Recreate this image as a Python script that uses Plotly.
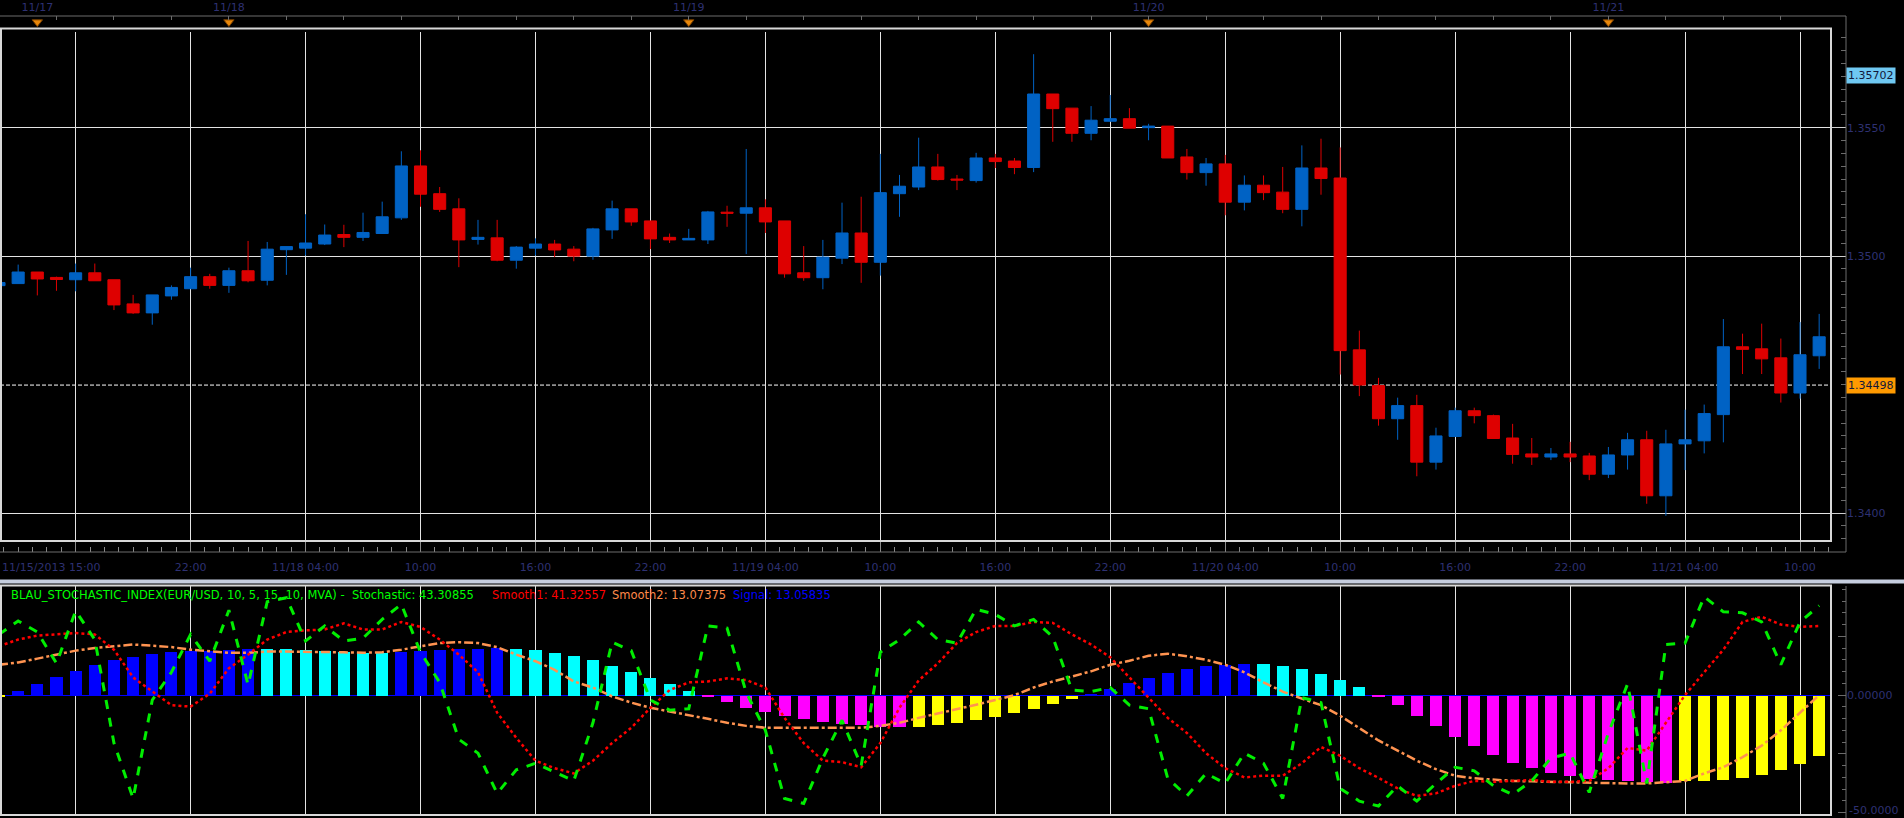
import plotly.graph_objects as go

W, H = 1904, 818

# ---------------- data ----------------
bar_index = list(range(96))

opens = [1.34885, 1.34893, 1.34938, 1.34917, 1.34908, 1.34935, 1.34908, 1.34814, 1.34779, 1.34845,
         1.34873, 1.34920, 1.34886, 1.34943, 1.34906, 1.35025, 1.35031, 1.35047, 1.35084, 1.35073,
         1.35088, 1.35149, 1.35351, 1.35243, 1.35184, 1.35065, 1.35071, 1.34984, 1.35031, 1.35047,
         1.35027, 1.35000, 1.35102, 1.35184, 1.35137, 1.35073, 1.35063, 1.35063, 1.35171, 1.35167,
         1.35188, 1.35137, 1.34935, 1.34916, 1.34992, 1.35090, 1.34976, 1.35243, 1.35269, 1.35347,
         1.35300, 1.35294, 1.35382, 1.35370, 1.35345, 1.35631, 1.35576, 1.35478, 1.35525, 1.35535,
         1.35500, 1.35506, 1.35386, 1.35325, 1.35359, 1.35210, 1.35276, 1.35249, 1.35182, 1.35343,
         1.35304, 1.34635, 1.34496, 1.34367, 1.34418, 1.34198, 1.34298, 1.34398, 1.34379, 1.34292,
         1.34230, 1.34218, 1.34230, 1.34222, 1.34151, 1.34226, 1.34285, 1.34067, 1.34269, 1.34281,
         1.34383, 1.34647, 1.34639, 1.34604, 1.34467, 1.34612]
highs = [1.34944, 1.34967, 1.34938, 1.34920, 1.34971, 1.34971, 1.34908, 1.34849, 1.34849, 1.34886,
         1.34955, 1.34931, 1.34955, 1.35059, 1.35055, 1.35037, 1.35163, 1.35123, 1.35122, 1.35169,
         1.35212, 1.35408, 1.35412, 1.35269, 1.35225, 1.35141, 1.35141, 1.35039, 1.35069, 1.35063,
         1.35039, 1.35110, 1.35216, 1.35184, 1.35137, 1.35088, 1.35106, 1.35176, 1.35196, 1.35417,
         1.35221, 1.35137, 1.35039, 1.35063, 1.35208, 1.35231, 1.35398, 1.35316, 1.35461, 1.35398,
         1.35316, 1.35402, 1.35398, 1.35382, 1.35786, 1.35631, 1.35576, 1.35584, 1.35627, 1.35576,
         1.35515, 1.35506, 1.35417, 1.35382, 1.35394, 1.35314, 1.35314, 1.35347, 1.35431, 1.35457,
         1.35423, 1.34710, 1.34526, 1.34449, 1.34460, 1.34332, 1.34410, 1.34410, 1.34383, 1.34347,
         1.34292, 1.34253, 1.34277, 1.34234, 1.34257, 1.34312, 1.34320, 1.34324, 1.34402, 1.34422,
         1.34755, 1.34698, 1.34737, 1.34679, 1.34743, 1.34775]
lows = [1.34878, 1.34893, 1.34847, 1.34865, 1.34863, 1.34904, 1.34790, 1.34775, 1.34733, 1.34830,
        1.34873, 1.34873, 1.34857, 1.34898, 1.34886, 1.34927, 1.35002, 1.35043, 1.35035, 1.35059,
        1.35088, 1.35141, 1.35192, 1.35172, 1.34957, 1.35045, 1.34980, 1.34951, 1.35002, 1.34996,
        1.34980, 1.34986, 1.35067, 1.35118, 1.35027, 1.35051, 1.35063, 1.35047, 1.35114, 1.35008,
        1.35090, 1.34916, 1.34904, 1.34871, 1.34969, 1.34896, 1.34924, 1.35153, 1.35257, 1.35294,
        1.35257, 1.35286, 1.35343, 1.35319, 1.35327, 1.35445, 1.35445, 1.35451, 1.35525, 1.35498,
        1.35451, 1.35382, 1.35298, 1.35274, 1.35159, 1.35178, 1.35218, 1.35167, 1.35116, 1.35239,
        1.34539, 1.34455, 1.34340, 1.34285, 1.34143, 1.34169, 1.34298, 1.34349, 1.34290, 1.34192,
        1.34187, 1.34206, 1.34198, 1.34128, 1.34136, 1.34169, 1.34036, 1.33989, 1.34167, 1.34232,
        1.34275, 1.34541, 1.34541, 1.34430, 1.34445, 1.34561]
closes = [1.34897, 1.34938, 1.34911, 1.34909, 1.34935, 1.34904, 1.34810, 1.34779, 1.34849, 1.34878,
          1.34920, 1.34886, 1.34943, 1.34904, 1.35027, 1.35037, 1.35051, 1.35082, 1.35073, 1.35092,
          1.35153, 1.35351, 1.35241, 1.35182, 1.35063, 1.35073, 1.34984, 1.35035, 1.35047, 1.35024,
          1.35000, 1.35106, 1.35184, 1.35133, 1.35067, 1.35063, 1.35069, 1.35172, 1.35167, 1.35188,
          1.35133, 1.34931, 1.34916, 1.34996, 1.35090, 1.34976, 1.35247, 1.35272, 1.35347, 1.35298,
          1.35296, 1.35382, 1.35368, 1.35345, 1.35631, 1.35574, 1.35478, 1.35529, 1.35535, 1.35498,
          1.35506, 1.35382, 1.35325, 1.35359, 1.35210, 1.35276, 1.35247, 1.35182, 1.35343, 1.35302,
          1.34632, 1.34498, 1.34367, 1.34418, 1.34198, 1.34300, 1.34398, 1.34379, 1.34290, 1.34228,
          1.34218, 1.34230, 1.34218, 1.34151, 1.34226, 1.34285, 1.34067, 1.34269, 1.34285, 1.34387,
          1.34647, 1.34637, 1.34600, 1.34467, 1.34616, 1.34686]

stochastic = [25.8, 31.5, 26.8, 13.5, 35.8, 23.6, -20.4, -44.0, -2.1, 9.7,
              25.8, 14.4, 36.1, 4.3, 39.7, 41.4, 23.0, 29.4, 23.0, 24.2,
              32.2, 38.6, 18.2, 5.4, -18.8, -24.7, -41.8, -31.8, -29.0, -32.8,
              -36.5, -11.8, 22.5, 18.9, -2.1, -6.4, -5.8, 29.4, 28.5, 1.1,
              -15.0, -44.0, -46.1, -26.8, -10.7, -30.0, 18.2, 23.6, 31.1, 23.6,
              22.1, 36.5, 34.3, 29.4, 32.2, 24.7, 2.1, 1.5, 3.2, -4.3,
              -5.8, -35.4, -42.9, -33.3, -37.6, -24.7, -29.0, -44.0, -1.1, -3.2,
              -39.7, -45.1, -47.2, -38.6, -45.1, -37.6, -30.7, -32.2, -38.6, -42.3,
              -36.5, -26.8, -24.7, -41.4, -16.1, 4.7, -37.6, 21.5, 22.1, 41.8,
              35.4, 35.0, 31.1, 12.9, 31.1, 38.0]
smooth1 = [20.8, 23.6, 25.3, 25.8, 26.4, 25.8, 19.3, 7.5, 1.5, -4.3,
           -4.9, 0.6, 11.4, 17.2, 23.6, 26.8, 27.5, 27.9, 30.5, 27.9,
           27.9, 31.1, 29.0, 23.6, 17.2, 9.7, -7.5, -18.2, -27.9, -31.1,
           -33.3, -27.9, -20.4, -13.9, -5.4, 2.1, 5.4, 5.8, 7.1, 6.4,
           3.2, -9.7, -20.4, -27.9, -28.5, -30.7, -20.4, -5.4, 6.2, 13.5,
           22.1, 26.8, 29.4, 29.4, 31.1, 30.7, 25.8, 21.5, 16.1, 7.5,
           -1.1, -9.7, -16.1, -24.7, -31.1, -35.0, -34.3, -34.3, -29.0, -22.1,
           -25.8, -31.1, -35.2, -39.7, -42.9, -41.8, -38.6, -36.5, -36.9, -36.5,
           -36.1, -36.9, -36.9, -36.5, -31.1, -22.5, -23.6, -11.8, 0.0, 9.7,
           19.3, 31.1, 33.3, 30.0, 29.0, 29.4]
smooth2 = [12.9, 13.9, 15.5, 17.2, 18.9, 20.0, 20.8, 21.5, 21.0, 20.4,
           19.3, 18.7, 18.0, 18.0, 18.5, 18.5, 18.5, 18.2, 18.2, 18.0,
           18.2, 19.3, 20.8, 22.1, 22.5, 22.1, 20.4, 17.2, 14.4, 10.7,
           5.8, 3.2, -0.6, -3.2, -5.4, -6.9, -8.4, -10.1, -11.8, -13.1,
           -13.9, -13.9, -13.9, -13.9, -13.9, -13.9, -13.1, -11.8, -9.7, -7.9,
           -6.2, -4.1, -2.1, 0.0, 3.2, 5.8, 7.9, 10.1, 12.9, 14.6,
           16.7, 17.6, 16.5, 15.0, 12.9, 9.7, 5.4, 1.5, -1.5, -4.3,
           -8.8, -13.9, -19.3, -23.6, -27.9, -31.5, -34.3, -35.4, -36.1, -36.5,
           -36.7, -36.9, -36.9, -37.1, -37.6, -37.6, -37.6, -37.1, -36.5, -33.3,
           -30.7, -26.4, -21.5, -15.0, -7.5, 0.0]
signal = [-0.4, 1.9, 4.9, 7.9, 10.5, 13.1, 15.0, 16.5, 17.8, 18.5,
          18.9, 19.1, 19.5, 19.8, 19.7, 19.6, 19.3, 18.9, 18.5, 18.2,
          18.1, 18.4, 18.8, 19.3, 19.7, 20.0, 20.2, 19.8, 19.3, 18.0,
          17.0, 15.2, 12.7, 10.1, 7.5, 4.9, 1.9, -0.6, -2.6, -5.2,
          -6.9, -8.6, -9.9, -11.2, -12.0, -12.4, -13.4, -13.5, -13.3, -12.4,
          -11.6, -10.3, -9.0, -7.5, -5.8, -3.6, -1.5, 0.8, 3.0, 5.4,
          7.5, 9.7, 11.4, 12.7, 13.1, 13.5, 13.4, 12.7, 11.4, 9.2,
          6.7, 3.6, -0.3, -3.9, -8.6, -12.9, -17.6, -21.5, -25.3, -28.8,
          -30.9, -33.0, -34.3, -35.6, -36.1, -36.5, -36.9, -37.0, -36.5, -36.3,
          -36.0, -35.2, -33.9, -31.8, -29.2, -25.8]

grid_bars = list(range(4, 96, 6))
time_labels = ['', '22:00', '11/18 04:00', '10:00', '16:00', '22:00', '11/19 04:00', '10:00',
               '16:00', '22:00', '11/20 04:00', '10:00', '16:00', '22:00', '11/21 04:00', '10:00']
first_time_label = '11/15/2013 15:00'
day_bars = [2, 12, 36, 60, 84]
day_labels = ['11/17', '11/18', '11/19', '11/20', '11/21']
price_ticks = [1.3400, 1.3500, 1.3550]
price_tick_text = ['1.3400', '1.3500', '1.3550']
last_price = 1.34498
mark_price = 1.35702
ind_ticks = [-50, -25, 0, 25]
ind_tick_text = ['', '', '0.00000', '']
ind_bottom_label = '-50.0000'
legend_parts = ['BLAU_STOCHASTIC_INDEX(EUR/USD, 10, 5, 15, 10, MVA) -\u00a0\u00a0Stochastic: 43.30855',
                'Smooth1: 41.32557', 'Smooth2: 13.07375', 'Signal: 13.05835']

# ---------------- style ----------------
UP, DN = '#0062c4', '#de0000'
GRID = '#e4e4e4'
FRAME = '#d8d8d8'
NAVY = '#2e3172'
AXC = '#6c6c6c'
FONT = 'DejaVu Sans'
BAR_PX = 19.17          # pixel width of one hourly bar
X0_PX = -1.0            # pixel position of bar 0
PLOT_R = 1831           # right edge of panels
AX_X = 1846             # right price axis line


def fx(px):
    return px / W


def fy(px):
    return 1 - px / H


XR = [(0 - X0_PX) / BAR_PX, (PLOT_R + 1 - X0_PX) / BAR_PX]

# histogram colours from direction/sign
sig_colors = []
for k, v in enumerate(signal):
    prev = signal[k - 1] if k > 0 else v - 1
    rising = v >= prev
    if v >= 0:
        sig_colors.append('#0000ff' if rising else '#00ffff')
    else:
        sig_colors.append('#ffff00' if rising else '#ff00ff')

fig = go.Figure()

fig.add_trace(go.Candlestick(
    x=bar_index, open=opens, high=highs, low=lows, close=closes,
    increasing=dict(line=dict(color=UP, width=1), fillcolor=UP),
    decreasing=dict(line=dict(color=DN, width=1), fillcolor=DN),
    whiskerwidth=0, xaxis='x', yaxis='y', hoverinfo='skip', showlegend=False))

fig.add_trace(go.Bar(x=bar_index, y=signal, width=0.63, marker=dict(color=sig_colors, line=dict(width=0)),
                     xaxis='x2', yaxis='y2', hoverinfo='skip'))
fig.add_trace(go.Scatter(x=bar_index, y=smooth2, mode='lines', xaxis='x2', yaxis='y2',
                         line=dict(color='#ff9350', width=2.5, dash='dashdot'), hoverinfo='skip'))
fig.add_trace(go.Scatter(x=bar_index, y=smooth1, mode='lines', xaxis='x2', yaxis='y2',
                         line=dict(color='#ff0000', width=2.5, dash='dot'), hoverinfo='skip'))
fig.add_trace(go.Scatter(x=bar_index, y=stochastic, mode='lines', xaxis='x2', yaxis='y2',
                         line=dict(color='#00ee00', width=3, dash='dash'), hoverinfo='skip'))

# day markers on the top axis strip
fig.add_trace(go.Scatter(x=day_bars, y=[0.62] * len(day_bars), mode='markers', xaxis='x4', yaxis='y4',
                         marker=dict(symbol='triangle-down', size=9, color='#e8870a',
                                     line=dict(color='#7a4000', width=1)),
                         hoverinfo='skip', cliponaxis=False))
# carrier (invisible) for the bottom time axis strip
fig.add_trace(go.Scatter(x=bar_index, y=[0.5] * len(bar_index), mode='none', xaxis='x3', yaxis='y3',
                         hoverinfo='skip'))

axis_font = dict(family=FONT, size=11, color=NAVY)

fig.update_layout(
    width=W, height=H, margin=dict(l=0, r=0, t=0, b=0, pad=0),
    paper_bgcolor='black', plot_bgcolor='black', showlegend=False,
    font=dict(family=FONT, size=11, color=NAVY),
    boxgap=0.37, boxgroupgap=0, bargap=0,
    xaxis=dict(domain=[0, fx(PLOT_R)], range=XR, anchor='y', tickmode='array', tickvals=grid_bars,
               showticklabels=False, ticks='', showgrid=True, gridcolor=GRID, gridwidth=1,
               zeroline=False, showline=False, rangeslider=dict(visible=False), fixedrange=True),
    yaxis=dict(domain=[fy(541), fy(28.5)], range=[1.33891, 1.35886], anchor='free', position=fx(AX_X),
               side='right', tickmode='array', tickvals=price_ticks, ticktext=price_tick_text,
               ticks='inside', ticklen=15, tickcolor='#cfcfcf', tickfont=axis_font,
               showgrid=True, gridcolor=GRID, gridwidth=1, zeroline=False, showline=False,
               minor=dict(tickmode='linear', tick0=1.3400, dtick=0.0005, ticks='inside', ticklen=5,
                          tickcolor=AXC, showgrid=False)),
    xaxis2=dict(domain=[0, fx(PLOT_R)], range=XR, anchor='y2', tickmode='array', tickvals=grid_bars,
                showticklabels=False, ticks='', showgrid=True, gridcolor=GRID, gridwidth=1,
                zeroline=False, showline=False, fixedrange=True),
    yaxis2=dict(domain=[fy(815), fy(585.5)], range=[-51.0, 46.6], anchor='free', position=fx(AX_X),
                side='right', tickmode='array', tickvals=ind_ticks, ticktext=ind_tick_text,
                ticks='inside', ticklen=8, tickcolor=AXC, tickfont=axis_font,
                showgrid=False, zeroline=True, zerolinecolor='#0000ff', zerolinewidth=1, showline=False,
                minor=dict(tickmode='linear', tick0=0, dtick=5, ticks='inside', ticklen=4, tickcolor=AXC)),
    # bottom time axis of the price panel
    xaxis3=dict(domain=[0, fx(PLOT_R)], range=XR, anchor='y3', side='bottom', tickmode='array',
                tickvals=grid_bars, ticktext=time_labels, ticks='inside', ticklen=11, tickcolor='#8a8a8a',
                tickfont=axis_font, ticklabelstandoff=7, showgrid=False, zeroline=False, showline=False,
                minor=dict(tickmode='linear', tick0=1, dtick=0.75, ticks='inside', ticklen=5, tickcolor='#8a8a8a')),
    yaxis3=dict(domain=[fy(552), fy(541)], range=[0, 1], anchor='x3', visible=False),
    # top date axis
    xaxis4=dict(domain=[0, fx(PLOT_R)], range=XR, anchor='y4', side='top', tickmode='array',
                tickvals=day_bars, ticktext=day_labels, ticks='', tickfont=axis_font, ticklabelstandoff=2,
                showgrid=False, zeroline=False, showline=False,
                minor=dict(tickmode='linear', tick0=0, dtick=3, ticks='inside', ticklen=4, tickcolor=AXC)),
    yaxis4=dict(domain=[fy(32), fy(16)], range=[0, 1], anchor='x4', visible=False),
)

shapes = [
    # separator band between panels
    dict(type='rect', xref='paper', yref='paper', x0=0, x1=1, y0=fy(583.5), y1=fy(579.5),
         fillcolor='#c6cedf', line=dict(width=0), layer='above'),
    # axis lines
    dict(type='line', xref='paper', yref='paper', x0=0, x1=fx(AX_X), y0=fy(16), y1=fy(16),
         line=dict(color=AXC, width=1)),
    dict(type='line', xref='paper', yref='paper', x0=fx(AX_X), x1=fx(AX_X), y0=fy(16), y1=fy(552),
         line=dict(color=AXC, width=1)),
    dict(type='line', xref='paper', yref='paper', x0=0, x1=fx(AX_X), y0=fy(552), y1=fy(552),
         line=dict(color=AXC, width=1)),
    dict(type='line', xref='paper', yref='paper', x0=fx(AX_X), x1=fx(AX_X), y0=fy(586), y1=fy(818),
         line=dict(color=AXC, width=1)),
    # current price line
    dict(type='line', xref='x domain', yref='y', x0=0, x1=1, y0=last_price, y1=last_price,
         line=dict(color='#ffffff', width=1, dash='4px,2px'), layer='below'),
    # panel frames
    dict(type='rect', xref='paper', yref='paper', x0=fx(1), x1=fx(PLOT_R), y0=fy(541), y1=fy(28.5),
         line=dict(color=FRAME, width=2), fillcolor='rgba(0,0,0,0)'),
    dict(type='rect', xref='paper', yref='paper', x0=fx(1), x1=fx(PLOT_R), y0=fy(815), y1=fy(585.5),
         line=dict(color=FRAME, width=2), fillcolor='rgba(0,0,0,0)'),
]
fig.update_layout(shapes=shapes)

annotations = [
    dict(xref='paper', yref='paper', x=0, y=fy(567), xanchor='left', yanchor='middle',
         text=first_time_label, showarrow=False, font=axis_font),
    dict(xref='paper', yref='y', x=fx(AX_X), y=mark_price, xanchor='left', yanchor='middle',
         text=f'{mark_price:.5f}', showarrow=False, bgcolor='#6fc8f2', borderpad=1,
         font=dict(family=FONT, size=11, color='#12183a')),
    dict(xref='paper', yref='y', x=fx(AX_X), y=last_price, xanchor='left', yanchor='middle',
         text=f'{last_price:.5f}', showarrow=False, bgcolor='#ff9a00', borderpad=1,
         font=dict(family=FONT, size=11, color='#12183a')),
    # bottom label of the indicator scale (kept inside the page)
    dict(xref='paper', yref='paper', x=fx(1848), y=0, xanchor='left', yanchor='bottom',
         text=ind_bottom_label, showarrow=False, borderpad=0, font=axis_font),
]
legend_x = [8.5, 490, 610, 731]
legend_colors = ['#00ff00', '#ff0000', '#ff8a4a', '#0000ff']
for txt, lx, lc in zip(legend_parts, legend_x, legend_colors):
    annotations.append(dict(xref='paper', yref='paper', x=fx(lx), y=fy(595), xanchor='left', yanchor='middle',
                            text=txt, showarrow=False, font=dict(family=FONT, size=11.5, color=lc)))
fig.update_layout(annotations=annotations)

fig.write_html('out.html')
